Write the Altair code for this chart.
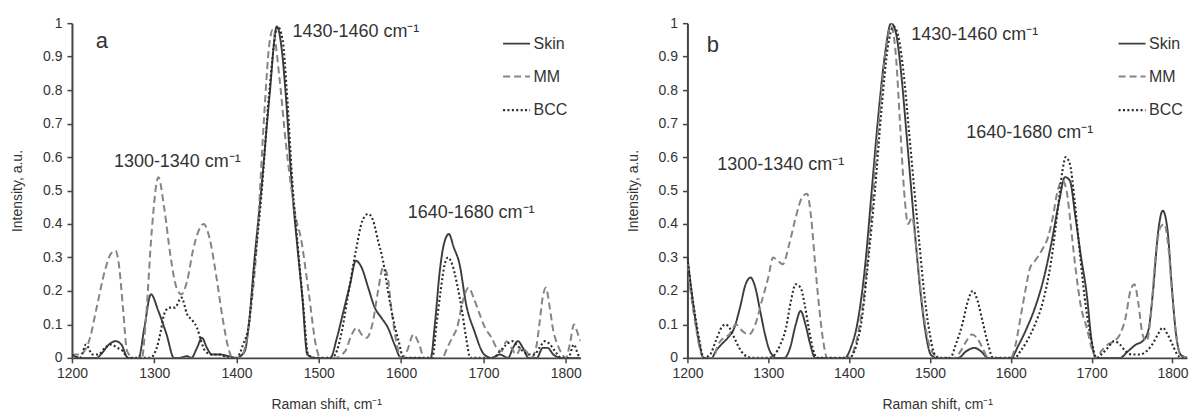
import altair as alt
import pandas as pd

SERIES = ["Skin", "MM", "BCC"]
COLORS = ["#3c3c3c", "#858585", "#2a2a2a"]
DASHES = [[1, 0], [7, 4], [2, 2.4]]
WIDTHS = [1.9, 2.1, 2.7]
X_TICKS = [1200, 1300, 1400, 1500, 1600, 1700, 1800]
Y_TICKS = [0, 0.1, 0.2, 0.3, 0.4, 0.5, 0.6, 0.7, 0.8, 0.9, 1]

# ---- panel a ----
A_SKIN_X = [1200, 1210, 1220, 1230, 1235, 1245, 1253, 1260, 1268, 1275, 1281, 1288, 1296, 1305, 1315, 1324,
            1330, 1340, 1345, 1352, 1358, 1364, 1370, 1380, 1390, 1400, 1410, 1415, 1422, 1430, 1440, 1449,
            1455, 1460, 1467, 1474, 1480, 1486, 1495, 1505, 1514, 1522, 1530, 1538, 1545, 1552, 1560, 1568,
            1576, 1584, 1592, 1600, 1610, 1620, 1636, 1641, 1647, 1652, 1658, 1664, 1671, 1679, 1689, 1701,
            1710, 1720, 1730, 1736, 1742, 1748, 1755, 1765, 1772, 1778, 1785, 1795, 1805, 1815, 1818]
A_SKIN_Y = [0.01, 0.0, 0.0, 0.0, 0.01, 0.04, 0.05, 0.04, 0.0, 0.0, 0.0, 0.09, 0.19, 0.14, 0.07, 0.0,
            0.0, 0.005, 0.0, 0.03, 0.06, 0.03, 0.01, 0.01, 0.005, 0.0, 0.02, 0.1, 0.3, 0.5, 0.78, 0.99,
            0.92, 0.78, 0.52, 0.33, 0.18, 0.01, 0.0, 0.0, 0.0, 0.06, 0.14, 0.22, 0.29, 0.27, 0.21, 0.15,
            0.12, 0.09, 0.04, 0.0, 0.0, 0.0, 0.0, 0.1, 0.26, 0.34, 0.37, 0.33, 0.28, 0.16, 0.08, 0.01,
            0.0, 0.01, 0.0, 0.03, 0.05, 0.03, 0.0, 0.0, 0.03, 0.03, 0.01, 0.0, 0.0, 0.0, 0.0]

A_MM_X = [1200, 1210, 1215, 1222, 1230, 1240, 1247, 1253, 1257, 1262, 1267, 1275, 1285, 1290, 1297, 1305,
          1312, 1320, 1327, 1333, 1340, 1347, 1354, 1360, 1367, 1375, 1383, 1390, 1395, 1405, 1415, 1425,
          1433, 1440, 1444, 1452, 1460, 1467, 1472, 1478, 1488, 1497, 1502, 1520, 1532, 1540, 1546, 1552,
          1558, 1565, 1572, 1578, 1583, 1588, 1594, 1600, 1607, 1615, 1622, 1628, 1650, 1656, 1662, 1668,
          1675, 1682, 1688, 1694, 1702, 1710, 1716, 1722, 1728, 1734, 1740, 1746, 1752, 1758, 1764, 1768,
          1772, 1776, 1780, 1785, 1790, 1796, 1800, 1805, 1810, 1815, 1818]
A_MM_Y = [0.01, 0.01, 0.02, 0.06, 0.15, 0.26, 0.31, 0.32, 0.28, 0.15, 0.02, 0.0, 0.0, 0.12, 0.38, 0.54,
          0.45, 0.3, 0.21, 0.19, 0.23, 0.32, 0.38, 0.4, 0.36, 0.25, 0.12, 0.03, 0.0, 0.0, 0.1, 0.35,
          0.7, 0.94, 0.98, 0.84, 0.64, 0.5, 0.42, 0.36, 0.19, 0.03, 0.0, 0.0, 0.02, 0.07, 0.09, 0.07,
          0.06, 0.1, 0.2, 0.27, 0.25, 0.15, 0.05, 0.0, 0.02, 0.07, 0.04, 0.0, 0.0, 0.03, 0.06, 0.09,
          0.17, 0.21, 0.18, 0.14, 0.09, 0.06, 0.03, 0.02, 0.05, 0.03, 0.01, 0.03, 0.02, 0.0, 0.03, 0.1,
          0.18, 0.21, 0.16, 0.08, 0.04, 0.01, 0.0, 0.04, 0.1, 0.07, 0.05]

A_BCC_X = [1200, 1210, 1217, 1225, 1232, 1240, 1248, 1255, 1262, 1268, 1295, 1303, 1308, 1312, 1318, 1325,
           1333, 1340, 1347, 1352, 1357, 1362, 1370, 1380, 1390, 1400, 1408, 1415, 1422, 1430, 1440, 1450,
           1456, 1461, 1468, 1475, 1481, 1487, 1495, 1515, 1520, 1528, 1535, 1545, 1553, 1560, 1566, 1572,
           1578, 1584, 1590, 1597, 1603, 1638, 1643, 1648, 1653, 1657, 1662, 1668, 1674, 1679, 1684, 1712,
           1720, 1728, 1735, 1740, 1748, 1755, 1762, 1768, 1775, 1781, 1787, 1795, 1803, 1810, 1815, 1818]
A_BCC_Y = [0.01, 0.0, 0.04, 0.01, 0.01, 0.03, 0.04, 0.03, 0.02, 0.0, 0.0, 0.03, 0.08, 0.13, 0.15, 0.15,
           0.18, 0.13, 0.11, 0.09, 0.05, 0.02, 0.01, 0.01, 0.0, 0.0, 0.04, 0.1, 0.28, 0.48, 0.8, 0.99,
           0.95, 0.8, 0.52, 0.32, 0.16, 0.01, 0.0, 0.0, 0.01, 0.08, 0.18, 0.32, 0.41, 0.43, 0.41, 0.35,
           0.29, 0.2, 0.12, 0.05, 0.0, 0.0, 0.1, 0.2, 0.28, 0.3, 0.28, 0.22, 0.14, 0.06, 0.0, 0.0,
           0.02, 0.04, 0.05, 0.04, 0.02, 0.01, 0.01, 0.03, 0.05, 0.04, 0.02, 0.0, 0.0, 0.04, 0.01, 0.0]

# ---- panel b ----
B_SKIN_X = [1200, 1205, 1210, 1215, 1220, 1230, 1235, 1242, 1250, 1258, 1265, 1272, 1278, 1284, 1290, 1296,
            1302, 1310, 1320, 1327, 1334, 1340, 1346, 1352, 1358, 1395, 1402, 1410, 1420, 1428, 1436, 1444,
            1452, 1458, 1464, 1471, 1477, 1483, 1489, 1495, 1501, 1508, 1535, 1545, 1555, 1563, 1572, 1600,
            1610, 1620, 1630, 1640, 1650, 1660, 1667, 1673, 1680, 1687, 1694, 1700, 1705, 1735, 1745, 1755,
            1763, 1770, 1776, 1782, 1788, 1794, 1799, 1804, 1810, 1818]
B_SKIN_Y = [0.3, 0.2, 0.11, 0.04, 0.0, 0.0, 0.02, 0.04, 0.06, 0.09, 0.15, 0.22, 0.24, 0.21, 0.14, 0.07,
            0.02, 0.0, 0.0, 0.03, 0.1, 0.14, 0.1, 0.04, 0.0, 0.0, 0.03, 0.1, 0.28, 0.5, 0.72, 0.9,
            1.0, 0.97, 0.86, 0.67, 0.5, 0.33, 0.18, 0.07, 0.01, 0.0, 0.0, 0.02, 0.03, 0.02, 0.0, 0.0,
            0.04, 0.09, 0.15, 0.23, 0.34, 0.47, 0.54, 0.53, 0.42, 0.3, 0.19, 0.05, 0.0, 0.0, 0.02, 0.04,
            0.05, 0.08, 0.2, 0.37, 0.44, 0.38, 0.22, 0.08, 0.01, 0.0]

B_MM_X = [1200, 1205, 1210, 1216, 1220, 1232, 1238, 1245, 1252, 1260, 1268, 1276, 1284, 1292, 1300, 1306,
          1312, 1318, 1326, 1334, 1342, 1348, 1353, 1358, 1363, 1368, 1373, 1400, 1408, 1418, 1428, 1438,
          1446, 1452, 1458, 1463, 1468, 1473, 1478, 1483, 1490, 1497, 1505, 1512, 1530, 1538, 1545, 1552,
          1558, 1565, 1572, 1600, 1606, 1612, 1618, 1624, 1630, 1638, 1646, 1652, 1658, 1664, 1669, 1674,
          1680, 1687, 1694, 1700, 1706, 1712, 1720, 1728, 1735, 1742, 1748, 1753, 1758, 1763, 1768, 1773,
          1779, 1785, 1790, 1795, 1800, 1805, 1810, 1818]
B_MM_Y = [0.28, 0.18, 0.1, 0.02, 0.0, 0.0, 0.04, 0.06, 0.07, 0.1, 0.08, 0.07, 0.1, 0.17, 0.24, 0.3,
          0.29, 0.28, 0.34, 0.42, 0.48, 0.49, 0.42, 0.28, 0.15, 0.05, 0.0, 0.0, 0.04, 0.18, 0.44, 0.74,
          0.93, 0.99, 0.9, 0.7, 0.5, 0.4, 0.42, 0.33, 0.17, 0.06, 0.01, 0.0, 0.0, 0.02, 0.05, 0.07,
          0.06, 0.03, 0.0, 0.0, 0.04, 0.12, 0.2, 0.27, 0.29, 0.32, 0.36, 0.42, 0.5, 0.53, 0.5, 0.4,
          0.27, 0.15, 0.09, 0.03, 0.0, 0.02, 0.04, 0.05, 0.07, 0.12, 0.2, 0.22, 0.16, 0.07, 0.05, 0.12,
          0.3, 0.39, 0.4, 0.33, 0.18, 0.06, 0.01, 0.0]

B_BCC_X = [1200, 1205, 1210, 1215, 1220, 1228, 1235, 1242, 1247, 1252, 1258, 1264, 1270, 1280, 1300, 1308,
           1315, 1322, 1328, 1334, 1340, 1345, 1350, 1355, 1360, 1400, 1408, 1416, 1424, 1432, 1440, 1448,
           1455, 1461, 1467, 1474, 1480, 1487, 1494, 1500, 1506, 1512, 1525, 1532, 1540, 1547, 1553, 1559,
           1565, 1572, 1578, 1605, 1612, 1620, 1630, 1640, 1650, 1658, 1664, 1668, 1673, 1679, 1686, 1693,
           1700, 1706, 1712, 1720, 1728, 1735, 1742, 1750, 1760, 1768, 1775, 1782, 1788, 1794, 1800, 1806,
           1812, 1818]
B_BCC_Y = [0.3, 0.2, 0.12, 0.05, 0.0, 0.01, 0.05, 0.09, 0.1, 0.09, 0.06, 0.03, 0.01, 0.0, 0.0, 0.01,
           0.04, 0.09, 0.17, 0.22, 0.21, 0.16, 0.09, 0.03, 0.0, 0.0, 0.03, 0.12, 0.3, 0.5, 0.74, 0.93,
           0.99, 0.96, 0.86, 0.68, 0.52, 0.34, 0.17, 0.07, 0.01, 0.0, 0.0, 0.04, 0.1, 0.17, 0.2, 0.17,
           0.11, 0.04, 0.0, 0.0, 0.02, 0.05, 0.1, 0.17, 0.29, 0.44, 0.56, 0.6, 0.58, 0.47, 0.3, 0.15,
           0.05, 0.0, 0.01, 0.03, 0.05, 0.04, 0.02, 0.01, 0.01, 0.02, 0.04, 0.07, 0.09, 0.07, 0.04, 0.01,
           0.0, 0.0]

# annotations
A_LABELS = ["1300-1340 cm\u207b\u00b9", "1430-1460 cm\u207b\u00b9", "1640-1680 cm\u207b\u00b9"]
A_LABEL_X = [1251, 1468, 1608]
A_LABEL_Y = [0.57, 0.96, 0.418]
B_LABELS = ["1300-1340 cm\u207b\u00b9", "1430-1460 cm\u207b\u00b9", "1640-1680 cm\u207b\u00b9"]
B_LABEL_X = [1237, 1477, 1545]
B_LABEL_Y = [0.56, 0.95, 0.657]
PANEL_LETTERS = ["a", "b"]
LETTER_X = [1229, 1224]
LETTER_Y = [0.925, 0.913]

FONT = "Liberation Sans"
TXT = "#333333"


def long_df(parts):
    rows = []
    for name, xs, ys in parts:
        for x, y in zip(xs, ys):
            rows.append({"shift": x, "intensity": y, "series": name})
    return pd.DataFrame(rows)


def panel(df, labels, lx, ly, letter, letx, lety, width):
    xscale = alt.Scale(domain=[1200, 1818], nice=False, zero=False)
    yscale = alt.Scale(domain=[0, 1], nice=False)
    xaxis = alt.Axis(values=X_TICKS, tickCount=7, format="d", title="Raman shift, cm\u207b\u00b9",
                     grid=False, titlePadding=17, labelPadding=4, labelFlush=False,
                     labelOverlap=False)
    yaxis = alt.Axis(values=Y_TICKS, tickCount=11, format="~g", title="Intensity, a.u.",
                     grid=False, titlePadding=18, labelPadding=5, labelFlush=False,
                     labelOverlap=False)
    leg = alt.Legend(orient="none", legendX=430, legendY=6, title=None, symbolType="stroke",
                     symbolSize=729, labelFont=FONT, labelFontSize=16,
                     labelColor=TXT, rowPadding=10, labelOffset=2, padding=0)
    lines = alt.Chart(df).mark_line(interpolate="monotone", clip=True).encode(
        x=alt.X("shift:Q", scale=xscale, axis=xaxis),
        y=alt.Y("intensity:Q", scale=yscale, axis=yaxis),
        color=alt.Color("series:N", scale=alt.Scale(domain=SERIES, range=COLORS), legend=leg),
        strokeDash=alt.StrokeDash("series:N", scale=alt.Scale(domain=SERIES, range=DASHES), legend=leg),
        strokeWidth=alt.StrokeWidth("series:N", scale=alt.Scale(domain=SERIES, range=WIDTHS), legend=leg),
    )
    ann_df = pd.DataFrame({"label": labels, "x": lx, "y": ly})
    ann = alt.Chart(ann_df).mark_text(align="left", baseline="alphabetic", font=FONT, fontSize=18,
                                      color=TXT).encode(
        x=alt.X("x:Q", scale=xscale, axis=xaxis), y=alt.Y("y:Q", scale=yscale, axis=yaxis),
        text="label:N")
    let_df = pd.DataFrame({"label": [letter], "x": [letx], "y": [lety]})
    let = alt.Chart(let_df).mark_text(align="left", baseline="alphabetic", font=FONT, fontSize=22,
                                      color=TXT).encode(
        x=alt.X("x:Q", scale=xscale, axis=xaxis), y=alt.Y("y:Q", scale=yscale, axis=yaxis),
        text="label:N")
    return alt.layer(lines, ann, let).properties(width=width, height=335)


df_a = long_df([("Skin", A_SKIN_X, A_SKIN_Y), ("MM", A_MM_X, A_MM_Y), ("BCC", A_BCC_X, A_BCC_Y)])
df_b = long_df([("Skin", B_SKIN_X, B_SKIN_Y), ("MM", B_MM_X, B_MM_Y), ("BCC", B_BCC_X, B_BCC_Y)])

pa = panel(df_a, A_LABELS, A_LABEL_X, A_LABEL_Y, PANEL_LETTERS[0], LETTER_X[0], LETTER_Y[0], 509)
pb = panel(df_b, B_LABELS, B_LABEL_X, B_LABEL_Y, PANEL_LETTERS[1], LETTER_X[1], LETTER_Y[1], 500)

chart = alt.hconcat(pa, pb, spacing=44).resolve_scale(
    color="independent", strokeDash="independent", strokeWidth="independent"
).properties(
    padding={"left": 2, "top": 8, "right": 0, "bottom": 0}
).configure_view(stroke=None).configure_axis(
    domainColor="#444444", domainWidth=2, tickColor="#444444", tickWidth=1.5, tickSize=5,
    labelFont=FONT, labelFontSize=14, labelColor=TXT,
    titleFont=FONT, titleFontSize=14, titleFontWeight="normal", titleColor=TXT
)

chart.save("out.html", embed_options={"renderer": "svg", "actions": False})
